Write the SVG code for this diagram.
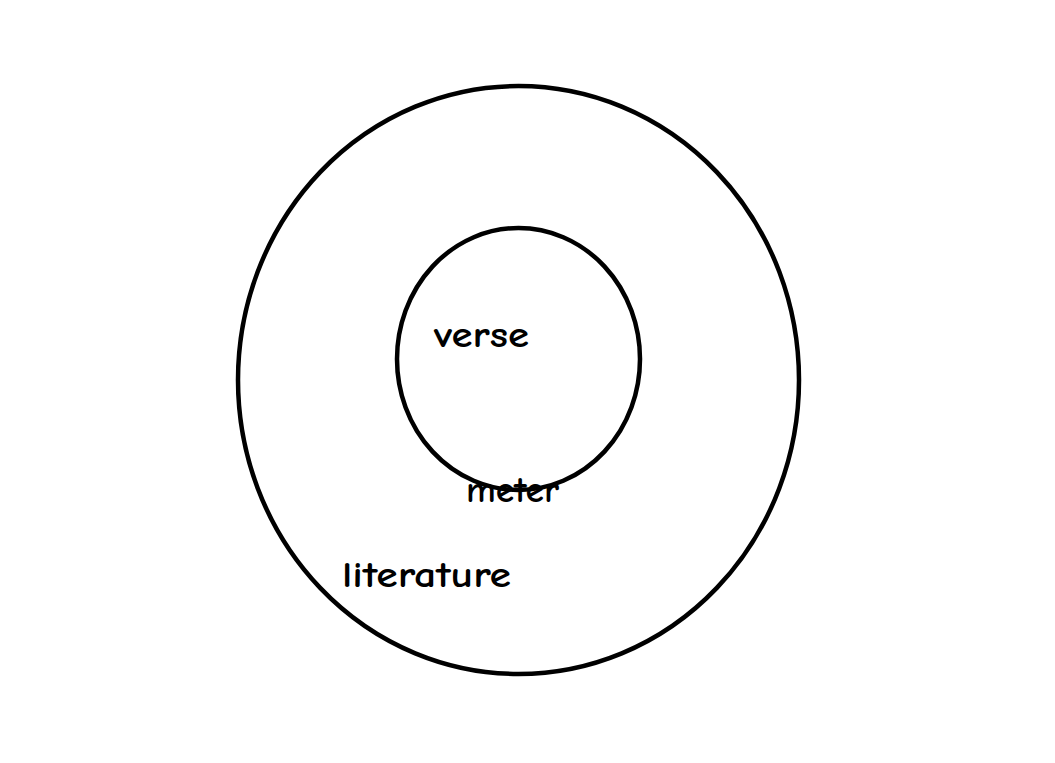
<svg xmlns="http://www.w3.org/2000/svg" width="1055" height="763" viewBox="0 0 1055 763">
<style>
.set{fill:none;stroke:#000;stroke-width:4.5}
.lbl{font-family:"Comic Sans MS","Comic Neue","DejaVu Sans",sans-serif;font-size:37px;font-weight:bold;fill:#000}
</style>
<rect width="1055" height="763" fill="#fff"/>
<g id="literature">
<ellipse class="set" cx="518.5" cy="380" rx="280.5" ry="294"/>
<text class="lbl" x="342" y="587" textLength="169" lengthAdjust="spacingAndGlyphs">literature</text>
</g>
<g id="verse">
<ellipse class="set" cx="518.5" cy="359" rx="121.5" ry="131"/>
<text class="lbl" x="434" y="347" textLength="95" lengthAdjust="spacingAndGlyphs">verse</text>
</g>
<g id="meter">
<text class="lbl" x="466" y="502" textLength="93" lengthAdjust="spacingAndGlyphs">meter</text>
</g>
<g id="connectors"/>
</svg>
